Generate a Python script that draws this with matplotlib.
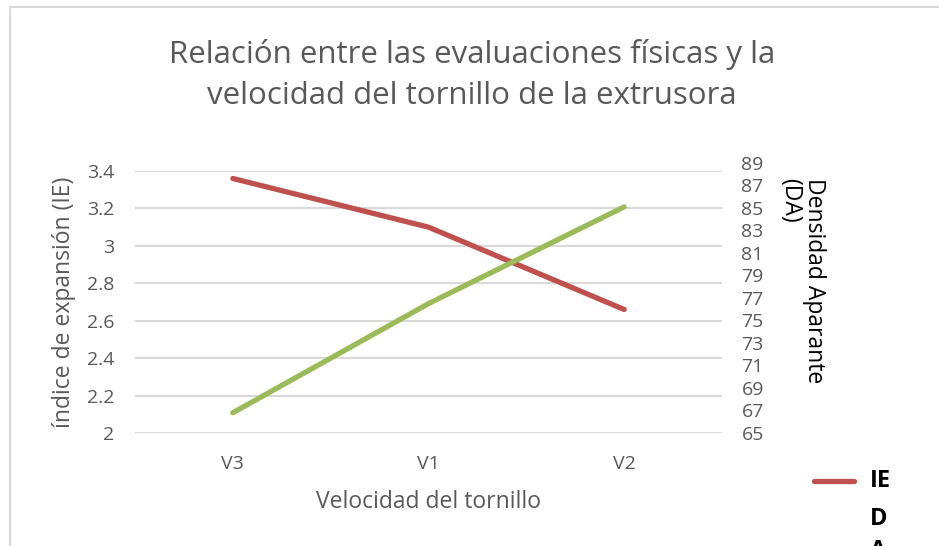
import numpy as np
import matplotlib.pyplot as plt
from matplotlib.lines import Line2D
from matplotlib.patches import Rectangle

plt.rcParams['font.family'] = ['Open Sans', 'DejaVu Sans']

velocidades = ['V3', 'V1', 'V2']
ie = [3.36, 3.10, 2.66]
da = [66.8, 76.5, 85.1]
ie_ticks = [2, 2.2, 2.4, 2.6, 2.8, 3, 3.2, 3.4]
da_ticks = list(range(65, 90, 2))

gris = '#595959'
rojo = '#C0504D'
verde = '#9BBB59'

W, H = 939, 546
fig = plt.figure(figsize=(W / 100, H / 100), dpi=100)

# marco del grafico
fig.patches.append(Rectangle((10 / W, -0.1), 1.1, (H - 7) / H + 0.1, transform=fig.transFigure,
                             fill=False, edgecolor='#d9d9d9', linewidth=1.5))

x = np.arange(len(velocidades))
izq, der, arriba, abajo = 135, 722, 171, 433
ax = fig.add_axes([izq / W, (H - abajo) / H, (der - izq) / W, (abajo - arriba) / H])
ax.set_xlim(-0.5, 2.5)
ax.set_ylim(2, 3.4)
ax.set_yticks(ie_ticks)
ax.set_yticklabels([f'{t:g}' for t in ie_ticks])
ax.set_xticks(x)
ax.set_xticklabels(velocidades)
for s in ax.spines.values():
    s.set_visible(False)
ax.grid(axis='y', color='#d9d9d9', linewidth=1.5)
ax.set_axisbelow(True)
ax.tick_params(length=0, labelsize=14, labelcolor=gris)
ax.tick_params(axis='y', pad=15)
ax.tick_params(axis='x', pad=16)
ax.set_ylabel('índice de expansión (IE)', fontsize=16.5, color=gris, labelpad=8)
ax.set_xlabel('Velocidad del tornillo', fontsize=16.5, color=gris, labelpad=12)
ax.plot(x, ie, color=rojo, linewidth=3.8, solid_capstyle='round', clip_on=False)

# eje secundario (algo mas alto que el principal)
ax2 = fig.add_axes([izq / W, (H - abajo) / H, (der - izq) / W, (abajo - 163) / H])
ax2.patch.set_visible(False)
ax2.set_xlim(-0.5, 2.5)
ax2.set_ylim(65, 89)
ax2.set_yticks(da_ticks)
for s in ax2.spines.values():
    s.set_visible(False)
ax2.xaxis.set_visible(False)
ax2.yaxis.tick_right()
ax2.tick_params(length=0, labelsize=14, labelcolor=gris, pad=14)
ax2.plot(x, da, color=verde, linewidth=3.8, solid_capstyle='round', clip_on=False)

fig.text(802 / W, 1 - 178 / H, 'Densidad Aparante\n(DA)', fontsize=16.5, color='black',
         rotation=-90, ha='center', va='top', multialignment='left', linespacing=1.0)

fig.text(472 / W, 1 - 75 / H, 'Relación entre las evaluaciones físicas y la\nvelocidad del tornillo de la extrusora',
         ha='center', va='center', fontsize=22.5, color=gris, linespacing=1.45)

# leyenda
fig.add_artist(Line2D([814 / W, 854 / W], [1 - 481 / H] * 2, transform=fig.transFigure,
                      color=rojo, linewidth=3.8, solid_capstyle='round'))
fig.text(870 / W, 1 - 481 / H, 'IE', fontsize=17, fontweight='bold', va='center')
fig.text(870 / W, 1 - 519 / H, 'D', fontsize=17, fontweight='bold', va='center')
fig.text(870 / W, 1 - 551 / H, 'A', fontsize=17, fontweight='bold', va='center')

fig.savefig('out.png', dpi=100)
